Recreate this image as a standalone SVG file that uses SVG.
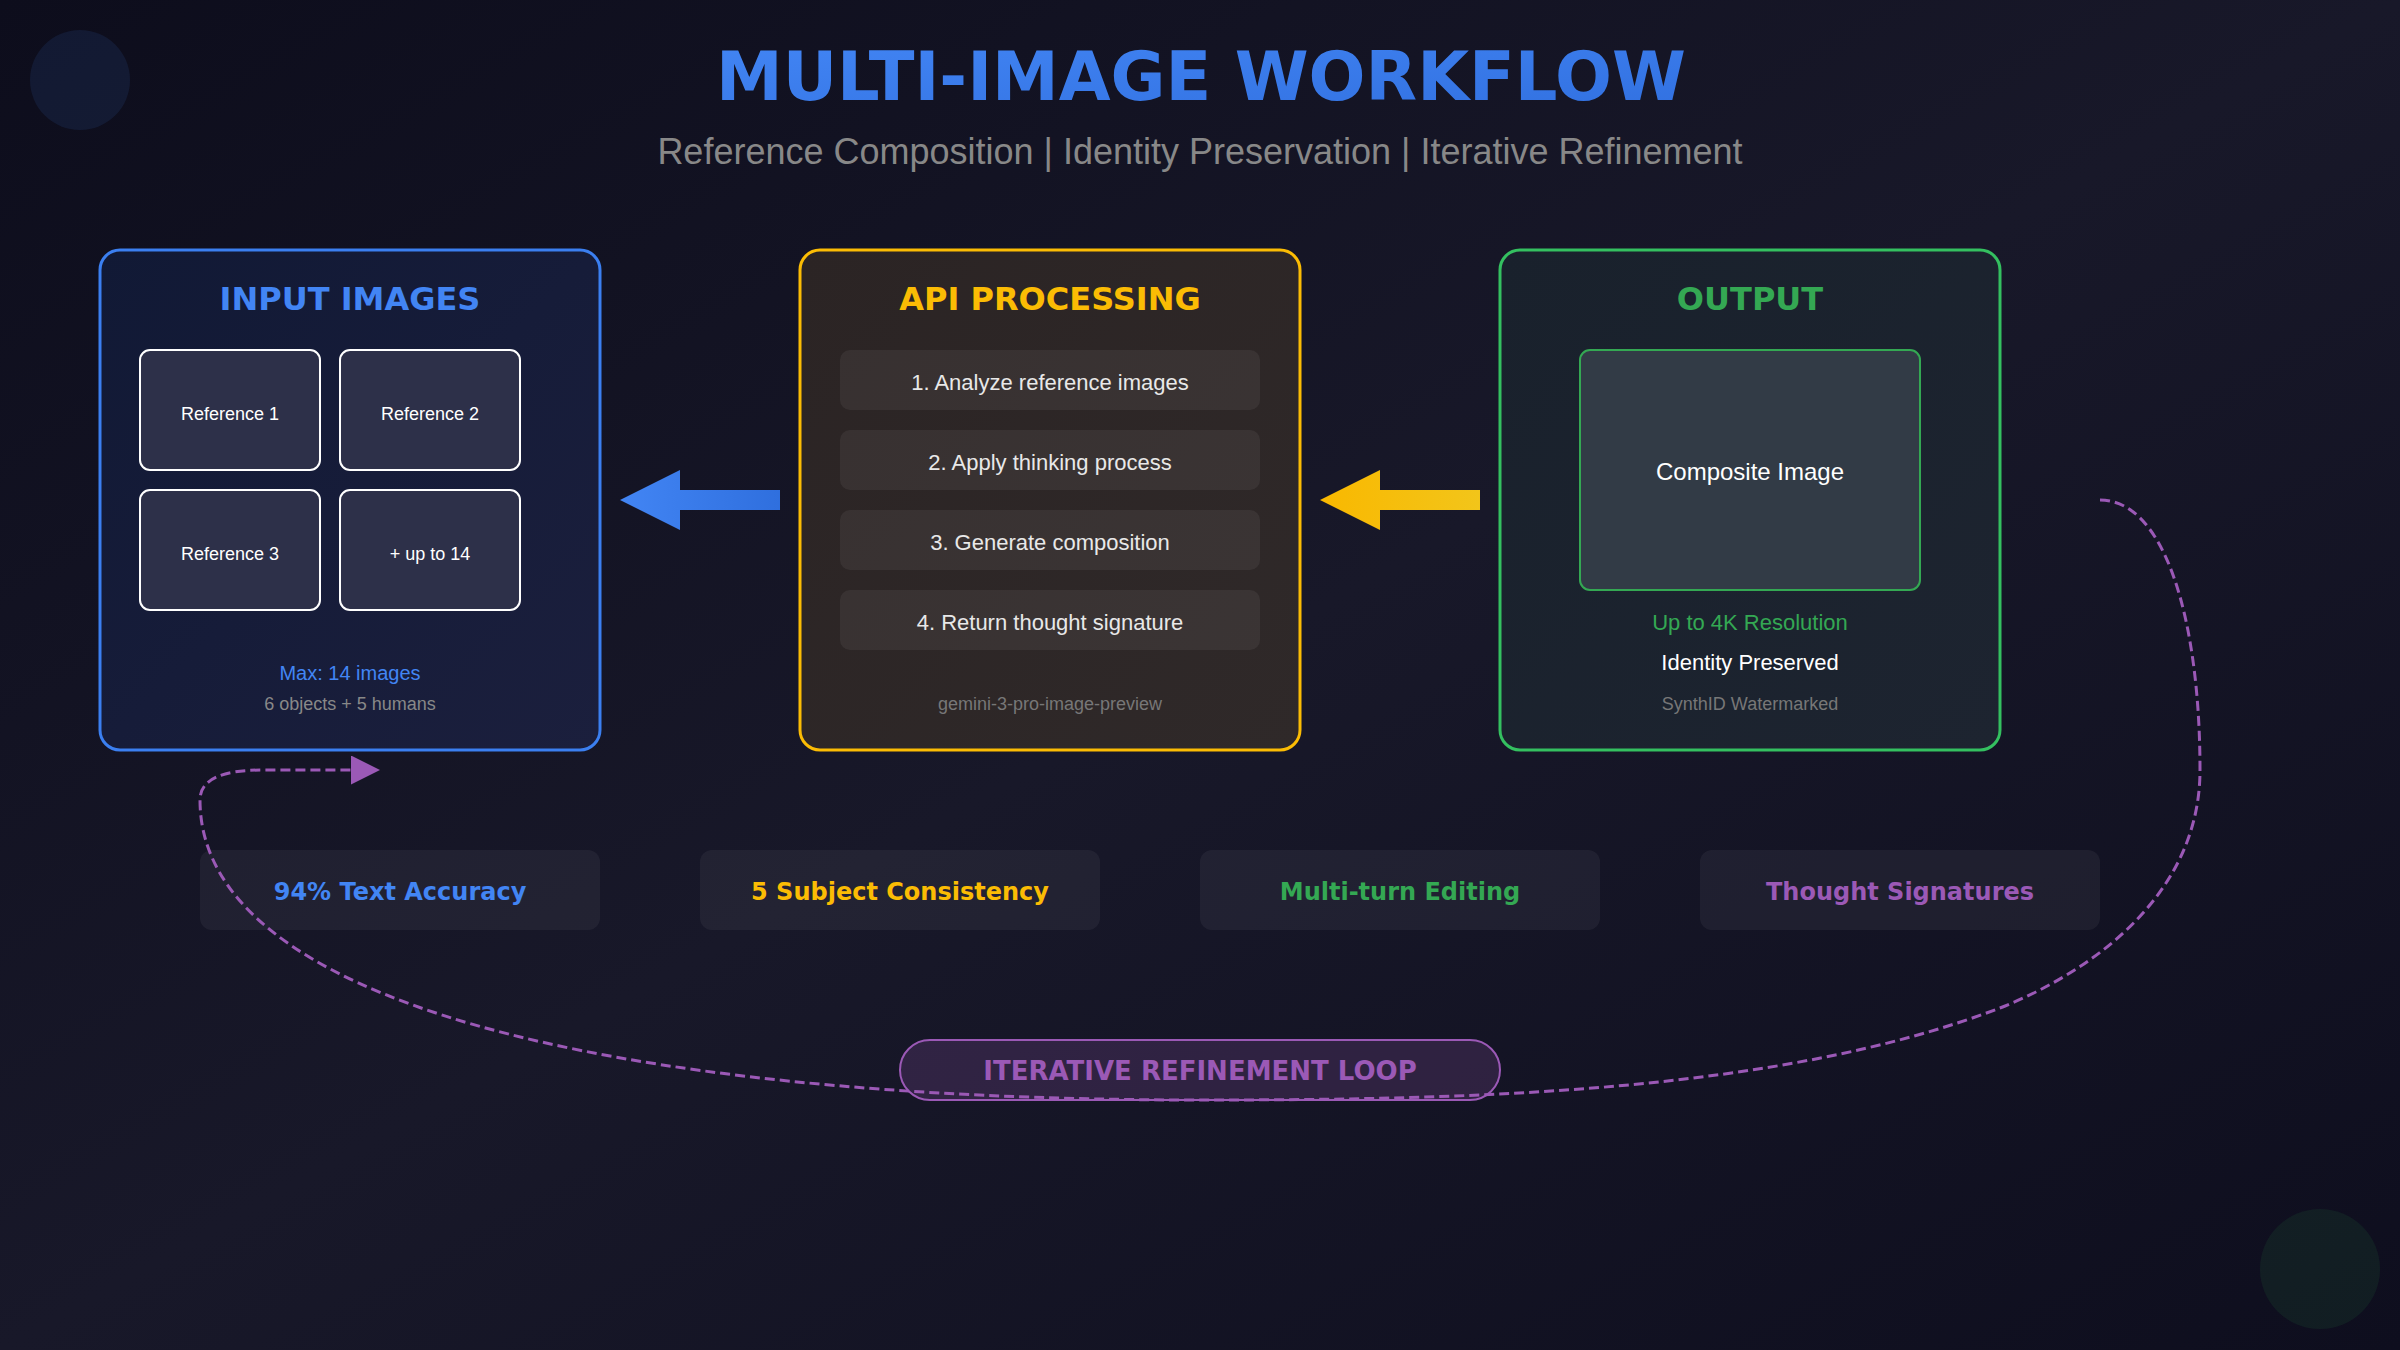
<svg xmlns="http://www.w3.org/2000/svg" width="2400" height="1350" viewBox="0 0 2400 1350">
  <defs>
    <linearGradient id="bg" x1="0" y1="0" x2="1" y2="1">
      <stop offset="0" stop-color="#0d0d1c"/>
      <stop offset="0.5" stop-color="#181829"/>
      <stop offset="1" stop-color="#0e0e1e"/>
    </linearGradient>
    <linearGradient id="titleGrad" x1="0" y1="0" x2="1" y2="1">
      <stop offset="0" stop-color="#4285f4"/>
      <stop offset="1" stop-color="#3170e0"/>
    </linearGradient>
    <linearGradient id="inFill" x1="0" y1="0" x2="1" y2="1">
      <stop offset="0" stop-color="#111935"/>
      <stop offset="1" stop-color="#1b1f3d"/>
    </linearGradient>
    <linearGradient id="apiFill" x1="0" y1="0" x2="1" y2="1">
      <stop offset="0" stop-color="#2b2424"/>
      <stop offset="1" stop-color="#2f2929"/>
    </linearGradient>
    <linearGradient id="outFill" x1="0" y1="0" x2="1" y2="1">
      <stop offset="0" stop-color="#19212c"/>
      <stop offset="1" stop-color="#1d2430"/>
    </linearGradient>
    <linearGradient id="blueArrow" x1="0" y1="0" x2="1" y2="0">
      <stop offset="0" stop-color="#4285f4"/>
      <stop offset="1" stop-color="#2f6fde"/>
    </linearGradient>
    <linearGradient id="yellowArrow" x1="0" y1="0" x2="1" y2="0">
      <stop offset="0" stop-color="#f9b800"/>
      <stop offset="1" stop-color="#f2c51a"/>
    </linearGradient>
    <marker id="loopHead" markerUnits="userSpaceOnUse" markerWidth="30" markerHeight="30" refX="0" refY="14.5" orient="auto">
      <path d="M0,0 L29,14.5 L0,29 Z" fill="#9b59b6"/>
    </marker>
    <style>
      .hdr { font-family: "DejaVu Sans", "Liberation Sans", sans-serif; font-weight: bold; text-anchor: middle; }
      .txt { font-family: "Liberation Sans", Arial, sans-serif; text-anchor: middle; }
      .thumb { fill: #2d3049; stroke: #ffffff; stroke-width: 2; }
      .step { fill: #ffffff; fill-opacity: 0.06; }
      .feat { fill: #ffffff; fill-opacity: 0.05; }
      .loop { fill: none; stroke: #9b59b6; stroke-width: 3; stroke-dasharray: 10 5; }
    </style>
  </defs>

  <rect x="0" y="0" width="2400" height="1350" fill="url(#bg)"/>
  <circle cx="80" cy="80" r="50" fill="#4285f4" fill-opacity="0.1"/>
  <circle cx="2320" cy="1269" r="60" fill="#34a853" fill-opacity="0.1"/>

  <g id="title">
    <text class="hdr" x="1201" y="100" font-size="67" fill="url(#titleGrad)">MULTI-IMAGE WORKFLOW</text>
    <text class="txt" x="1200" y="164" font-size="36" fill="#888888">Reference Composition | Identity Preservation | Iterative Refinement</text>
  </g>

  <g id="input-images">
    <rect x="100" y="250" width="500" height="500" rx="20" fill="url(#inFill)" stroke="#3b7ff0" stroke-width="3"/>
    <text class="hdr" x="350" y="310" font-size="32" fill="#4285f4">INPUT IMAGES</text>
    <rect class="thumb" x="140" y="350" width="180" height="120" rx="10"/>
    <text class="txt" x="230" y="420" font-size="18" fill="#ffffff">Reference 1</text>
    <rect class="thumb" x="340" y="350" width="180" height="120" rx="10"/>
    <text class="txt" x="430" y="420" font-size="18" fill="#ffffff">Reference 2</text>
    <rect class="thumb" x="140" y="490" width="180" height="120" rx="10"/>
    <text class="txt" x="230" y="560" font-size="18" fill="#ffffff">Reference 3</text>
    <rect class="thumb" x="340" y="490" width="180" height="120" rx="10"/>
    <text class="txt" x="430" y="560" font-size="18" fill="#ffffff">+ up to 14</text>
    <text class="txt" x="350" y="680" font-size="20" fill="#4285f4">Max: 14 images</text>
    <text class="txt" x="350" y="710" font-size="18" fill="#888888">6 objects + 5 humans</text>
  </g>

  <g id="api-processing">
    <rect x="800" y="250" width="500" height="500" rx="20" fill="url(#apiFill)" stroke="#fbbc04" stroke-width="3"/>
    <text class="hdr" x="1050" y="310" font-size="32" fill="#fbbc04">API PROCESSING</text>
    <rect class="step" x="840" y="350" width="420" height="60" rx="10"/>
    <text class="txt" x="1050" y="390" font-size="22" fill="#e8e8e8">1. Analyze reference images</text>
    <rect class="step" x="840" y="430" width="420" height="60" rx="10"/>
    <text class="txt" x="1050" y="470" font-size="22" fill="#e8e8e8">2. Apply thinking process</text>
    <rect class="step" x="840" y="510" width="420" height="60" rx="10"/>
    <text class="txt" x="1050" y="550" font-size="22" fill="#e8e8e8">3. Generate composition</text>
    <rect class="step" x="840" y="590" width="420" height="60" rx="10"/>
    <text class="txt" x="1050" y="630" font-size="22" fill="#e8e8e8">4. Return thought signature</text>
    <text class="txt" x="1050" y="710" font-size="18" fill="#777777">gemini-3-pro-image-preview</text>
  </g>

  <g id="output">
    <rect x="1500" y="250" width="500" height="500" rx="20" fill="url(#outFill)" stroke="#34c060" stroke-width="3"/>
    <text class="hdr" x="1750" y="310" font-size="32" fill="#34a853">OUTPUT</text>
    <rect x="1580" y="350" width="340" height="240" rx="10" fill="#323b46" stroke="#34a853" stroke-width="2"/>
    <text class="txt" x="1750" y="480" font-size="24" fill="#ffffff">Composite Image</text>
    <text class="txt" x="1750" y="630" font-size="22" fill="#34a853">Up to 4K Resolution</text>
    <text class="txt" x="1750" y="670" font-size="22" fill="#ffffff">Identity Preserved</text>
    <text class="txt" x="1750" y="710" font-size="18" fill="#777777">SynthID Watermarked</text>
  </g>

  <g id="features">
    <g id="feature-text-accuracy">
      <rect class="feat" x="200" y="850" width="400" height="80" rx="12"/>
      <text class="hdr" x="400" y="900" font-size="24" fill="#4285f4">94% Text Accuracy</text>
    </g>
    <g id="feature-subject-consistency">
      <rect class="feat" x="700" y="850" width="400" height="80" rx="12"/>
      <text class="hdr" x="900" y="900" font-size="24" fill="#fbbc04">5 Subject Consistency</text>
    </g>
    <g id="feature-multi-turn">
      <rect class="feat" x="1200" y="850" width="400" height="80" rx="12"/>
      <text class="hdr" x="1400" y="900" font-size="24" fill="#34a853">Multi-turn Editing</text>
    </g>
    <g id="feature-thought-signatures">
      <rect class="feat" x="1700" y="850" width="400" height="80" rx="12"/>
      <text class="hdr" x="1900" y="900" font-size="24" fill="#9b59b6">Thought Signatures</text>
    </g>
  </g>

  <g id="connectors">
    <polygon points="620,500 680,470 680,490 780,490 780,510 680,510 680,530" fill="url(#blueArrow)"/>
    <polygon points="1320,500 1380,470 1380,490 1480,490 1480,510 1380,510 1380,530" fill="url(#yellowArrow)"/>
    <path class="loop" d="M 2100 500 C 2165 500 2200 620 2200 770 C 2200 890 2100 968 2000 1008 C 1780 1092 1480 1100 1200 1100 C 600 1100 200 1000 200 800 Q 200 770 262 770 L 351 770" marker-end="url(#loopHead)"/>
  </g>

  <g id="loop-label">
    <rect x="900" y="1040" width="600" height="60" rx="30" fill="#9b59b6" fill-opacity="0.2" stroke="#9b59b6" stroke-width="2"/>
    <text class="hdr" x="1200" y="1080" font-size="26" fill="#9b59b6">ITERATIVE REFINEMENT LOOP</text>
  </g>
</svg>
